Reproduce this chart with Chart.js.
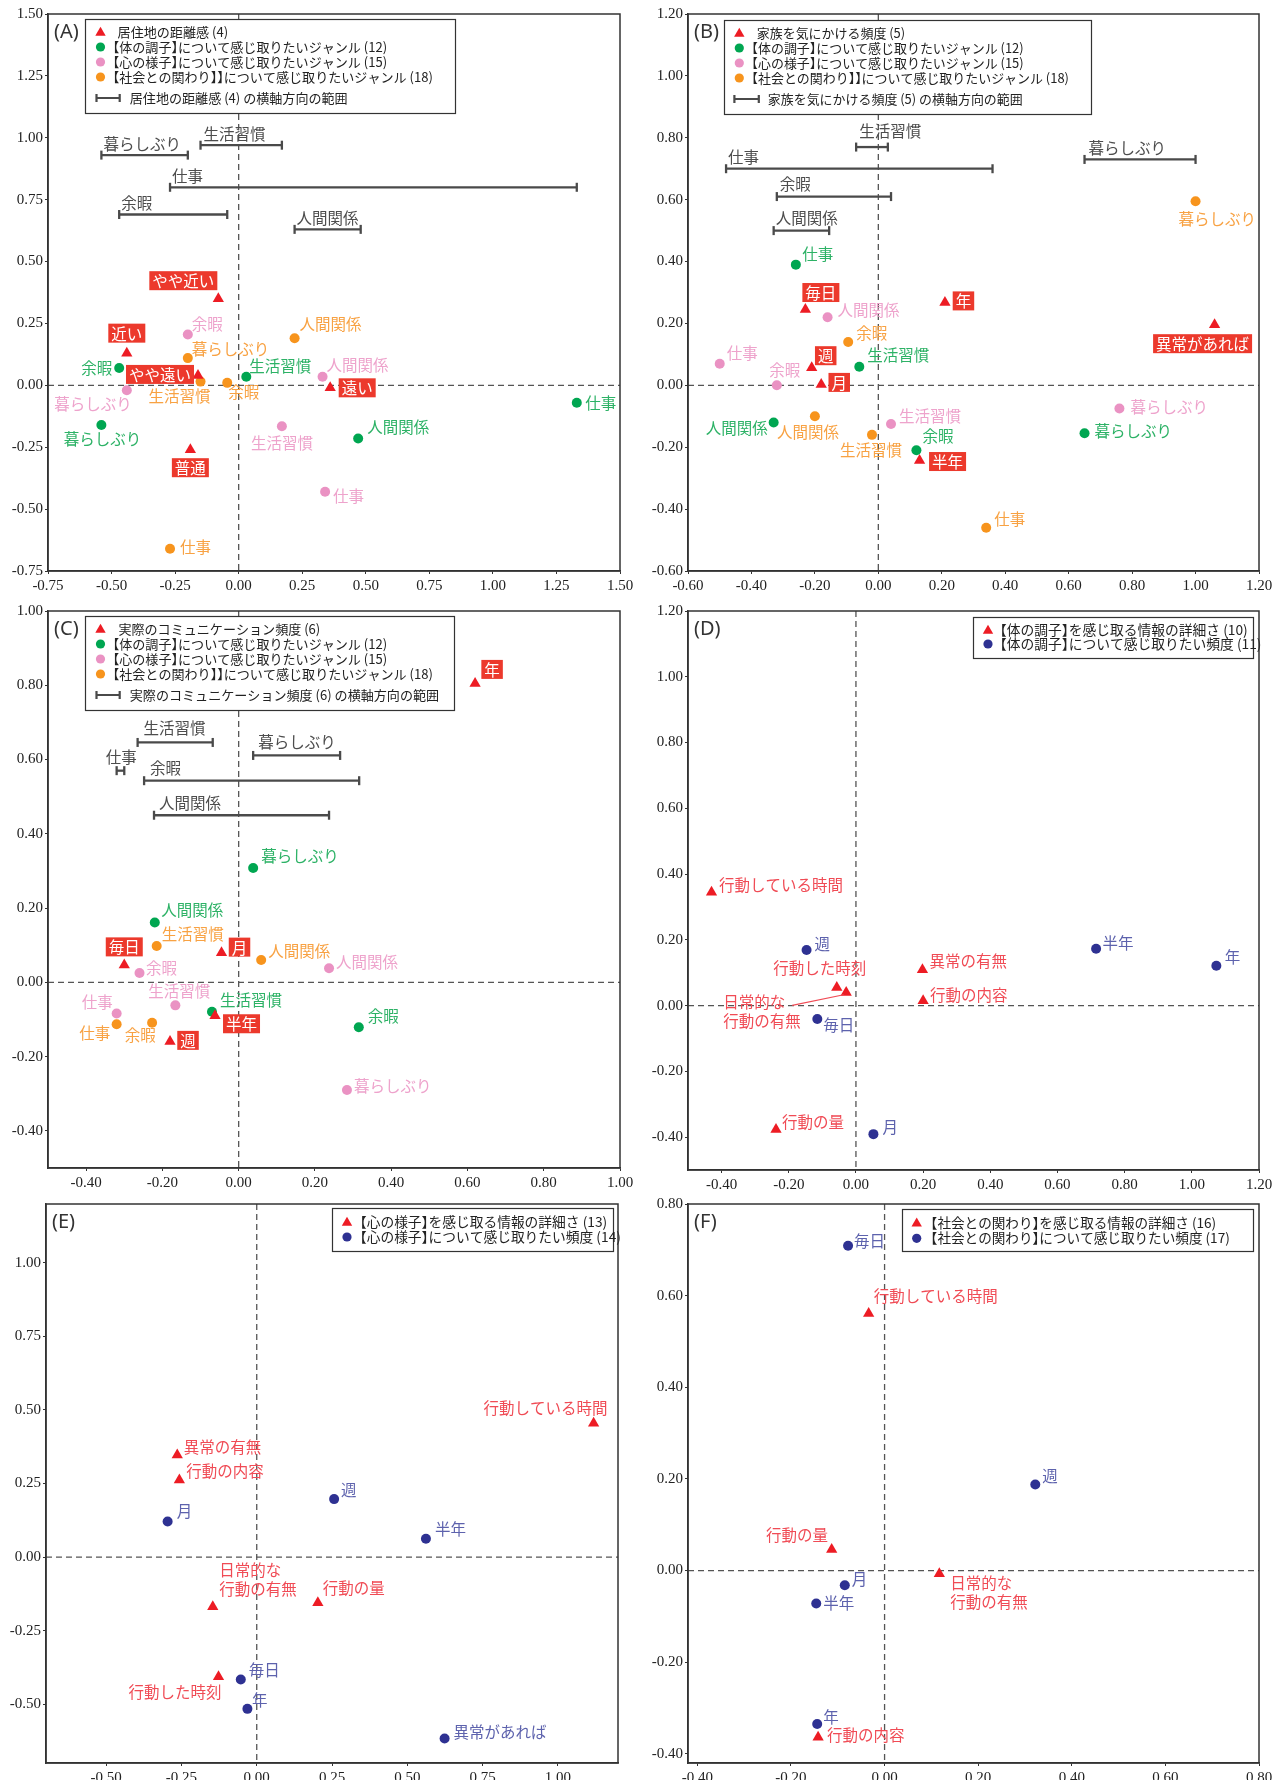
<!DOCTYPE html>
<html><head><meta charset="utf-8">
<script src="https://cdn.jsdelivr.net/npm/chart.js@4.4.1/dist/chart.umd.min.js"></script>
<style>
html,body{margin:0;padding:0;background:#fff;}
body{position:relative;width:1282px;height:1780px;overflow:hidden;}
canvas{position:absolute;}
</style></head><body>
<canvas id="cA" width="641" height="600" style="left:0;top:0"></canvas>
<canvas id="cB" width="641" height="600" style="left:641px;top:0"></canvas>
<canvas id="cC" width="641" height="590" style="left:0;top:600px"></canvas>
<canvas id="cD" width="641" height="590" style="left:641px;top:600px"></canvas>
<canvas id="cE" width="641" height="590" style="left:0;top:1190px"></canvas>
<canvas id="cF" width="641" height="590" style="left:641px;top:1190px"></canvas>
<script>
// ===== DATA =====
const GENRES = ['仕事','生活習慣','余暇','人間関係','暮らしぶり'];

// (A) 居住地の距離感
const A_triLab = ['やや近い','近い','やや遠い','遠い','普通'];
const A_triX = [-0.08,-0.44,-0.16,0.36,-0.19];
const A_triY = [0.35,0.13,0.04,-0.01,-0.26];
const A_bodyX = [1.33,0.03,-0.47,0.47,-0.54];
const A_bodyY = [-0.07,0.035,0.07,-0.215,-0.16];
const A_mindX = [0.34,0.17,-0.20,0.33,-0.44];
const A_mindY = [-0.43,-0.165,0.205,0.035,-0.02];
const A_socX = [-0.27,-0.15,-0.045,0.22,-0.20];
const A_socY = [-0.66,0.015,0.01,0.19,0.11];
const A_rngFrom = [-0.27,-0.15,-0.47,0.22,-0.54];
const A_rngTo = [1.33,0.17,-0.045,0.48,-0.20];
const A_rngY = [0.80,0.97,0.69,0.63,0.93];
const A_ticks = [-0.75,-0.50,-0.25,0.00,0.25,0.50,0.75,1.00,1.25,1.50];

// (B) 家族を気にかける頻度
const B_triLab = ['毎日','週','月','半年','年','異常があれば'];
const B_triX = [-0.23,-0.21,-0.18,0.13,0.21,1.06];
const B_triY = [0.245,0.057,0.003,-0.243,0.268,0.196];
const B_bodyX = [-0.26,-0.06,0.12,-0.33,0.65];
const B_bodyY = [0.39,0.06,-0.21,-0.12,-0.155];
const B_mindX = [-0.50,0.04,-0.32,-0.16,0.76];
const B_mindY = [0.07,-0.125,0.0,0.22,-0.075];
const B_socX = [0.34,-0.02,-0.095,-0.20,1.0];
const B_socY = [-0.46,-0.16,0.14,-0.10,0.595];
const B_rngFrom = [-0.48,-0.07,-0.32,-0.33,0.65];
const B_rngTo = [0.36,0.03,0.04,-0.155,1.0];
const B_rngY = [0.70,0.77,0.61,0.50,0.73];
const B_ticks = [-0.60,-0.40,-0.20,0.00,0.20,0.40,0.60,0.80,1.00,1.20];

// (C) 実際のコミュニケーション頻度
const C_triLab = ['毎日','週','月','半年','年'];
const C_triX = [-0.30,-0.18,-0.045,-0.062,0.62];
const C_triY = [0.047,-0.159,0.08,-0.09,0.805];
const C_bodyX = [null,-0.07,0.315,-0.22,0.038];
const C_bodyY = [null,-0.079,-0.121,0.161,0.308];
const C_mindX = [-0.32,-0.166,-0.26,0.237,0.284];
const C_mindY = [-0.084,-0.062,0.025,0.038,-0.29];
const C_socX = [-0.32,-0.215,-0.227,0.059,null];
const C_socY = [-0.113,0.098,-0.109,0.06,null];
const C_rngFrom = [-0.32,-0.265,-0.248,-0.222,0.038];
const C_rngTo = [-0.30,-0.068,0.316,0.237,0.266];
const C_rngY = [0.57,0.646,0.543,0.45,0.611];
const C_ticks = [-0.40,-0.20,0.00,0.20,0.40,0.60,0.80,1.00];

// (D) 体の調子
const D_triLab = ['行動している時間','異常の有無','行動した時刻','日常的な\n行動の有無','行動の内容','行動の量'];
const D_triX = [-0.43,0.198,-0.057,-0.029,0.20,-0.238];
const D_triY = [0.345,0.109,0.055,0.04,0.015,-0.377];
const D_freqLab = ['週','毎日','月','半年','年'];
const D_freqX = [-0.147,-0.115,0.052,0.715,1.073];
const D_freqY = [0.169,-0.041,-0.391,0.173,0.121];
const D_ticks = [-0.40,-0.20,0.00,0.20,0.40,0.60,0.80,1.00,1.20];

// (E) 心の様子
const E_triLab = ['行動している時間','異常の有無','行動の内容','日常的な\n行動の有無','行動の量','行動した時刻'];
const E_triX = [1.119,-0.264,-0.257,-0.146,0.203,-0.127];
const E_triY = [0.455,0.347,0.262,-0.169,-0.155,-0.407];
const E_freqLab = ['週','月','半年','毎日','年','異常があれば'];
const E_freqX = [0.257,-0.296,0.562,-0.053,-0.031,0.624];
const E_freqY = [0.197,0.121,0.062,-0.416,-0.516,-0.617];
const E_ticks = [-0.50,-0.25,0.00,0.25,0.50,0.75,1.00];

// (F) 社会との関わり
const F_triLab = ['行動している時間','行動の量','日常的な\n行動の有無','行動の内容'];
const F_triX = [-0.034,-0.113,0.117,-0.142];
const F_triY = [0.561,0.046,-0.007,-0.364];
const F_freqLab = ['毎日','週','月','半年','年'];
const F_freqX = [-0.078,0.322,-0.085,-0.146,-0.144];
const F_freqY = [0.709,0.188,-0.032,-0.072,-0.335];
const F_ticks = [-0.40,-0.20,0.00,0.20,0.40,0.60,0.80];

// ===== STYLE / LAYOUT =====
const COL = {red:'#ed1c24', box:'#ec392c', green:'#00a651', greenT:'#2db266', pink:'#ea92c3', pinkT:'#eea3cc',
  orange:'#f7941d', orangeT:'#f8a243', navy:'#2e3192', navyT:'#5d62ad', redT:'#f04b55', gray:'#4a4a4a'};
const JPFAM = '"Noto Sans CJK JP", sans-serif';
const LABFONT = '15.5px ' + JPFAM;

// label offsets [dx, dy, align] (pixels from marker)
const OFF = {
  A_tri:[[-35,-18],[0,-20],[-38,-1],[27,0],[0,18]],
  A_body:[[8.5,0,'left'],[3,-11,'left'],[-7,0,'right'],[9,-11,'left'],[1,14,'center']],
  A_mind:[[8,4,'left'],[0,17,'center'],[4,-10,'left'],[4,-12,'left'],[5,14,'right']],
  A_soc:[[10,-2,'left'],[-21,14,'center'],[1,9,'left'],[5,-14,'left'],[4,-9,'left']],
  A_rng:[[2,-11,'left'],[3,-11,'left'],[2,-11,'left'],[2,-11,'left'],[2,-11,'left']],
  B_tri:[[15.5,-17],[14,-12],[18,-2],[28,1],[18.5,-1.5],[-12,19]],
  B_body:[[6.5,-11,'left'],[8,-12,'left'],[6,-14,'left'],[-6,6,'right'],[10,-2,'left']],
  B_mind:[[7,-11,'left'],[8,-8,'left'],[8,-15,'center'],[10,-7,'left'],[11,-1,'left']],
  B_soc:[[8,-9,'left'],[-1,15,'center'],[8,-9,'left'],[-7,16,'center'],[21.6,18,'center']],
  B_rng:[[2,-12,'left'],[3,-16,'left'],[3,-12,'left'],[2,-13,'left'],[4,-11,'left']],
  C_tri:[[0,-18],[18,-1],[18,-5.5],[26.5,8],[17,-14]],
  C_body:[null,[8,-12,'left'],[9,-11,'left'],[6.5,-12,'left'],[8,-12,'left']],
  C_mind:[[-4,-11,'right'],[4,-14,'center'],[6.5,-5,'left'],[7,-6,'left'],[7,-4,'left']],
  C_soc:[[-6.5,9,'right'],[5,-12,'left'],[3.6,12,'right'],[7,-9,'left'],null],
  C_rng:[[4.5,-14,'center'],[6,-14,'left'],[6,-13,'left'],[5,-12,'left'],[5,-13,'left']],
  D_tri:[[7.5,-7,'left'],[7,-9,'left'],[-17,-19,'center'],[-123,10,'left',[-54,13,-2.5,2.3]],[7,-6,'left'],[6,-7,'left']],
  D_freq:[[8,-6,'left'],[6,6,'left'],[9,-7,'left'],[6.5,-6,'left'],[8.5,-9,'left']],
  E_tri:[[14,-15,'right'],[6.5,-8,'left'],[7,-9,'left'],[6.5,-36.7,'left'],[5,-15,'left'],[3,15,'right']],
  E_freq:[[7,-9,'left'],[9,-10,'left'],[9,-10,'left'],[8,-9,'left'],[4.5,-9,'left'],[9,-6,'left']],
  F_tri:[[5,-17,'left'],[-3.7,-14,'right'],[11,9,'left'],[9,-2,'left']],
  F_freq:[[6,-5,'left'],[7,-8,'left'],[7,-6,'left'],[7,0,'left'],[6,-7,'left']]
};

function genreLegend(title, t1, tb, rx1, rx2, rtx){
  return [
    {k:'tri', c:COL.red, y:13, tx:t1, t:title},
    {k:'dot', c:COL.green, y:28, tx:tb, t:'【体の調子】について感じ取りたいジャンル (12)'},
    {k:'dot', c:COL.pink, y:43, tx:tb, t:'【心の様子】について感じ取りたいジャンル (15)'},
    {k:'dot', c:COL.orange, y:58, tx:tb, t:'【社会との関わり】】について感じ取りたいジャンル (18)'},
    {k:'rng', y:79, x1:rx1, x2:rx2, tx:rtx, t:title+' の横軸方向の範囲'}
  ];
}

function genreSeries(p){
  return [
    {x:p.triX, y:p.triY, lab:p.triLab, off:p.triOff, ps:'triangle', r:6.5, c:COL.red, style:'box'},
    {x:p.bodyX, y:p.bodyY, lab:GENRES, off:p.bodyOff, ps:'circle', r:5, c:COL.green, lc:COL.greenT},
    {x:p.mindX, y:p.mindY, lab:GENRES, off:p.mindOff, ps:'circle', r:5, c:COL.pink, lc:COL.pinkT},
    {x:p.socX, y:p.socY, lab:GENRES, off:p.socOff, ps:'circle', r:5, c:COL.orange, lc:COL.orangeT}
  ];
}

const PANELS = {
  cA:{letter:'(A)', xr:[-0.75,1.5], yr:[-0.75,1.5], xt:A_ticks, yt:A_ticks, yW:48, xH:29, padTop:14, padRight:21,
    series:genreSeries({triX:A_triX,triY:A_triY,triLab:A_triLab,triOff:OFF.A_tri,bodyX:A_bodyX,bodyY:A_bodyY,bodyOff:OFF.A_body,
      mindX:A_mindX,mindY:A_mindY,mindOff:OFF.A_mind,socX:A_socX,socY:A_socY,socOff:OFF.A_soc}),
    rng:{from:A_rngFrom,to:A_rngTo,y:A_rngY,lab:GENRES,off:OFF.A_rng},
    legend:{x:37,y:5,w:370,h:94,mx:15.5,fit:1,fitW:274.7,items:genreLegend('居住地の距離感 (4)',32.6,27.7,11.5,34.7,44.8)}},
  cB:{letter:'(B)', xr:[-0.6,1.2], yr:[-0.6,1.2], xt:B_ticks, yt:B_ticks, yW:47, xH:29, padTop:14, padRight:23,
    series:genreSeries({triX:B_triX,triY:B_triY,triLab:B_triLab,triOff:OFF.B_tri,bodyX:B_bodyX,bodyY:B_bodyY,bodyOff:OFF.B_body,
      mindX:B_mindX,mindY:B_mindY,mindOff:OFF.B_mind,socX:B_socX,socY:B_socY,socOff:OFF.B_soc}),
    rng:{from:B_rngFrom,to:B_rngTo,y:B_rngY,lab:GENRES,off:OFF.B_rng},
    legend:{x:36,y:6,w:367,h:94,mx:15.3,fit:1,fitW:272.3,items:genreLegend('家族を気にかける頻度 (5)',32.8,27.5,10.4,34.8,43.8)}},
  cC:{letter:'(C)', xr:[-0.5,1.0], yr:[-0.5,1.0], xt:C_ticks, yt:C_ticks, yW:48, xH:22, padTop:10, padRight:21,
    series:genreSeries({triX:C_triX,triY:C_triY,triLab:C_triLab,triOff:OFF.C_tri,bodyX:C_bodyX,bodyY:C_bodyY,bodyOff:OFF.C_body,
      mindX:C_mindX,mindY:C_mindY,mindOff:OFF.C_mind,socX:C_socX,socY:C_socY,socOff:OFF.C_soc}),
    rng:{from:C_rngFrom,to:C_rngTo,y:C_rngY,lab:GENRES,off:OFF.C_rng},
    legend:{x:37,y:5,w:369,h:94,mx:15.5,fit:1,fitW:274.7,items:genreLegend('実際のコミュニケーション頻度 (6)',33.4,27.7,11.5,34.7,44.8)}},
  cD:{letter:'(D)', xr:[-0.5,1.2], yr:[-0.5,1.2], xt:D_ticks, yt:D_ticks, yW:47, xH:20, padTop:11, padRight:23,
    series:[{x:D_triX,y:D_triY,lab:D_triLab,off:OFF.D_tri,ps:'triangle',r:6.5,c:COL.red,lc:COL.redT},
            {x:D_freqX,y:D_freqY,lab:D_freqLab,off:OFF.D_freq,ps:'circle',r:5,c:COL.navy,lc:COL.navyT}],
    legend:{x:285,y:6,w:280,h:41,mx:15,fit:0,fitW:248.2,items:[
      {k:'tri',c:COL.red,y:13,tx:26.8,t:'【体の調子】を感じ取る情報の詳細さ (10)'},
      {k:'dot',c:COL.navy,y:27,tx:26.8,t:'【体の調子】について感じ取りたい頻度 (11)'}]}},
  cE:{letter:'(E)', xr:[-0.7,1.2], yr:[-0.7,1.2], xt:E_ticks, yt:E_ticks, yW:46, xH:17, padTop:14, padRight:23,
    series:[{x:E_triX,y:E_triY,lab:E_triLab,off:OFF.E_tri,ps:'triangle',r:6.5,c:COL.red,lc:COL.redT},
            {x:E_freqX,y:E_freqY,lab:E_freqLab,off:OFF.E_freq,ps:'circle',r:5,c:COL.navy,lc:COL.navyT}],
    legend:{x:286,y:4,w:281,h:43,mx:15,fit:0,fitW:247.4,items:[
      {k:'tri',c:COL.red,y:14,tx:27.8,t:'【心の様子】を感じ取る情報の詳細さ (13)'},
      {k:'dot',c:COL.navy,y:29,tx:27.8,t:'【心の様子】について感じ取りたい頻度 (14)'}]}},
  cF:{letter:'(F)', xr:[-0.42,0.8], yr:[-0.42,0.8], xt:F_ticks, yt:F_ticks, yW:47, xH:17, padTop:14, padRight:23,
    series:[{x:F_triX,y:F_triY,lab:F_triLab,off:OFF.F_tri,ps:'triangle',r:6.5,c:COL.red,lc:COL.redT},
            {x:F_freqX,y:F_freqY,lab:F_freqLab,off:OFF.F_freq,ps:'circle',r:5,c:COL.navy,lc:COL.navyT}],
    legend:{x:214,y:5,w:351,h:42,mx:14.7,fit:0,fitW:285.7,items:[
      {k:'tri',c:COL.red,y:13.7,tx:28.6,t:'【社会との関わり】を感じ取る情報の詳細さ (16)'},
      {k:'dot',c:COL.navy,y:29.3,tx:28.6,t:'【社会との関わり】について感じ取りたい頻度 (17)'}]}}
};

// ===== DRAWING HELPERS =====
function tri(c,x,y,r,col){
  c.beginPath();
  c.moveTo(x, y-r);
  c.lineTo(x+r*Math.sin(2*Math.PI/3), y-r*Math.cos(2*Math.PI/3));
  c.lineTo(x+r*Math.sin(4*Math.PI/3), y-r*Math.cos(4*Math.PI/3));
  c.closePath(); c.fillStyle=col; c.fill();
}
function dot(c,x,y,r,col){ c.beginPath(); c.arc(x,y,r,0,Math.PI*2); c.fillStyle=col; c.fill(); }

// proportional (half-width) brackets like the original typesetting
function paltWidth(c, t){
  const em=parseFloat(c.font); let w=0;
  t.split(/([【】])/).forEach(s=>{ if(!s) return; if(s==='【'||s==='】') w+=em*0.5; else w+=c.measureText(s).width; });
  return w;
}
function paltDraw(c, t, x, y){
  const em=parseFloat(c.font); let cx=x;
  t.split(/([【】])/).forEach(s=>{
    if(!s) return;
    if(s==='【'){ c.fillText(s, cx-em*0.5, y); cx+=em*0.5; }
    else if(s==='】'){ c.fillText(s, cx, y); cx+=em*0.5; }
    else { c.fillText(s, cx, y); cx+=c.measureText(s).width; }
  });
}

function drawLabel(c, px, py, t, o, color, style){
  if(!o) return;
  const dx=o[0], dy=o[1], al=o[2]||'left';
  c.font = LABFONT; c.textBaseline='middle';
  if(style==='box'){
    const w = c.measureText(t).width; const cx=px+dx, cy=py+dy;
    c.fillStyle=COL.box; c.fillRect(cx-w/2-3, cy-9.5, w+6, 19);
    c.fillStyle='#fff'; c.textAlign='center'; c.fillText(t, cx, cy+0.5);
  } else {
    c.fillStyle=color; c.textAlign=al;
    t.split('\n').forEach((ln,k)=> c.fillText(ln, px+dx, py+dy+k*19));
    if(o[3]){ const L=o[3]; c.strokeStyle=color; c.lineWidth=1.2; c.setLineDash([]);
      c.beginPath(); c.moveTo(px+L[0],py+L[1]); c.lineTo(px+L[2],py+L[3]); c.stroke(); }
  }
}

const deco = {
  id:'deco',
  beforeDatasetsDraw(chart){
    const c=chart.ctx, a=chart.chartArea;
    const x0=chart.scales.x.getPixelForValue(0), y0=chart.scales.y.getPixelForValue(0);
    c.save(); c.beginPath(); c.rect(a.left,a.top,a.right-a.left,a.bottom-a.top); c.clip();
    c.strokeStyle='#555'; c.lineWidth=1.3; c.setLineDash([6,4]);
    c.beginPath(); c.moveTo(x0,a.top); c.lineTo(x0,a.bottom); c.stroke();
    c.beginPath(); c.moveTo(a.left,y0); c.lineTo(a.right,y0); c.stroke();
    c.restore();
  },
  afterDatasetsDraw(chart){
    const P = PANELS[chart.canvas.id]; const c=chart.ctx, a=chart.chartArea;
    c.save();
    chart.data.datasets.forEach((ds,i)=>{
      const meta = chart.getDatasetMeta(i);
      if(ds.rngLab){
        const p = meta.data[0];
        drawLabel(c, p.x, p.y, ds.rngLab, ds.rngOff, '#4d4d4d', 'text');
      } else {
        ds.data.forEach((d,j)=>{ const p=meta.data[j]; drawLabel(c, p.x, p.y, d.t, d.o, ds.labColor, ds.labStyle); });
      }
    });
    // legend
    const L = P.legend; const bx=a.left+L.x, by=a.top+L.y;
    c.setLineDash([]);
    c.fillStyle='#fff'; c.fillRect(bx,by,L.w,L.h);
    c.strokeStyle='#333'; c.lineWidth=1.2; c.strokeRect(bx+0.5,by+0.5,L.w,L.h);
    c.font = '13px ' + JPFAM;
    const fs = 13 * L.fitW / paltWidth(c, L.items[L.fit].t);
    L.items.forEach(it=>{
      const yy=by+it.y;
      if(it.k==='tri') tri(c,bx+L.mx,yy+0.8,6,it.c);
      else if(it.k==='dot') dot(c,bx+L.mx,yy,4.6,it.c);
      else { c.strokeStyle=COL.gray; c.lineWidth=2.2;
        c.beginPath(); c.moveTo(bx+it.x1,yy); c.lineTo(bx+it.x2,yy);
        c.moveTo(bx+it.x1,yy-4); c.lineTo(bx+it.x1,yy+4);
        c.moveTo(bx+it.x2,yy-4); c.lineTo(bx+it.x2,yy+4); c.stroke(); }
      c.font = fs.toFixed(2)+'px '+JPFAM; c.fillStyle='#222'; c.textAlign='left'; c.textBaseline='middle';
      paltDraw(c, it.t, bx+it.tx, yy);
    });
    // panel letter
    c.font='20px "Noto Sans", sans-serif'; c.fillStyle='#333'; c.textAlign='left'; c.textBaseline='middle';
    c.fillText(P.letter, a.left+6, a.top+18);
    // frame
    c.strokeStyle='#333'; c.lineWidth=1.5; c.strokeRect(a.left,a.top,a.right-a.left,a.bottom-a.top);
    c.restore();
  }
};

function axis(range, ticks, isX, size){
  return { type:'linear', min:range[0], max:range[1],
    afterBuildTicks: s=>{ s.ticks = ticks.map(v=>({value:v})); },
    afterFit: s=>{ if(isX) s.height=size; else s.width=size; },
    ticks:{ autoSkip:false, maxRotation:0, padding: isX?3:2, color:'#222',
      font:{family:'"Liberation Serif", "Times New Roman", serif', size:15},
      callback: v=> Number(v).toFixed(2) },
    grid:{ drawOnChartArea:false, drawTicks:true, tickLength:3, color:'#333', lineWidth:1 },
    border:{ display:true, color:'#333', width:1.5 } };
}

function build(id){
  const P = PANELS[id];
  const datasets = [];
  P.series.forEach(s=>{
    const data=[];
    s.x.forEach((x,i)=>{ if(x==null) return; data.push({x:x, y:s.y[i], t:s.lab[i], o:s.off[i]}); });
    datasets.push({type:'scatter', data, pointStyle:s.ps, pointRadius:s.r, pointBackgroundColor:s.c,
      pointBorderColor:s.c, pointBorderWidth:0, labColor:s.lc, labStyle:s.style||'text'});
  });
  if(P.rng){
    P.rng.from.forEach((f,i)=>{
      datasets.push({type:'scatter', showLine:true, data:[{x:f,y:P.rng.y[i]},{x:P.rng.to[i],y:P.rng.y[i]}],
        borderColor:COL.gray, borderWidth:2.3, pointStyle:'line', pointRotation:90, pointRadius:4.5,
        pointBorderColor:COL.gray, pointBorderWidth:2.3, rngLab:P.rng.lab[i], rngOff:P.rng.off[i]});
    });
  }
  new Chart(document.getElementById(id), {
    type:'scatter', data:{datasets},
    options:{ responsive:false, animation:false, events:[],
      layout:{padding:{left:0, top:P.padTop, right:P.padRight, bottom:0}},
      plugins:{legend:{display:false}, tooltip:{enabled:false}},
      scales:{ x:axis(P.xr,P.xt,true,P.xH), y:axis(P.yr,P.yt,false,P.yW) } },
    plugins:[deco]
  });
}
['cA','cB','cC','cD','cE','cF'].forEach(build);
</script>
</body></html>
